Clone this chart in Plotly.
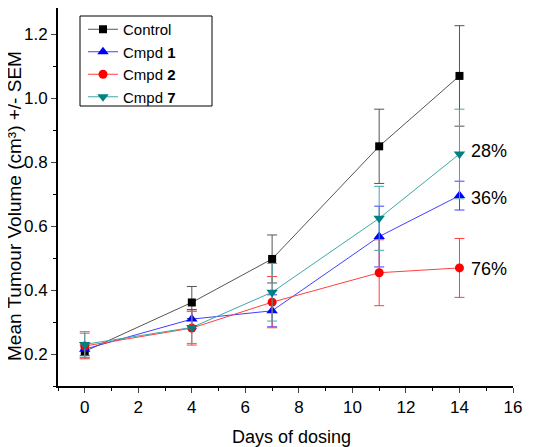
import plotly.graph_objects as go

days = [0, 4, 7, 11, 14]
control = [0.208, 0.361, 0.497, 0.849, 1.069]
control_err = [0.02, 0.05, 0.075, 0.116, 0.157]
cmpd1 = [0.215, 0.309, 0.335, 0.567, 0.695]
cmpd1_err = [0.02, 0.03, 0.05, 0.095, 0.045]
cmpd2 = [0.225, 0.281, 0.362, 0.454, 0.469]
cmpd2_err = [0.04, 0.053, 0.08, 0.103, 0.092]
cmpd7 = [0.23, 0.283, 0.393, 0.624, 0.825]
cmpd7_err = [0.04, 0.05, 0.09, 0.10, 0.14]

pct_labels = ["28%", "36%", "76%"]
pct_y = [0.835, 0.689, 0.467]

x_title = "Days of dosing"
y_title = "Mean Tumour Volume (cm³) +/- SEM"

series = [
    ("Control", control, control_err, "#000000", "#555555", "square", 8),
    ("Cmpd <b>1</b>", cmpd1, cmpd1_err, "#0000FF", "#4040FF", "triangle-up", 10),
    ("Cmpd <b>2</b>", cmpd2, cmpd2_err, "#FF0000", "#FF4040", "circle", 9),
    ("Cmpd <b>7</b>", cmpd7, cmpd7_err, "#008080", "#40A8A8", "triangle-down", 10),
]

fig = go.Figure()
for name, vals, errs, mcol, lcol, sym, msize in series:
    fig.add_trace(go.Scatter(
        x=days, y=vals, name=name, mode="lines+markers",
        line=dict(color=lcol, width=1),
        marker=dict(symbol=sym, size=msize, color=mcol),
        error_y=dict(type="data", array=errs, visible=True, color=lcol,
                     thickness=1, width=5),
    ))

for lab, yv in zip(pct_labels, pct_y):
    fig.add_annotation(x=14, y=yv, xref="x", yref="y", text=lab,
                       showarrow=False, xanchor="left", xshift=10,
                       font=dict(size=18, color="#000000"))

# figure coords (page has an 8px body offset)
L, T = 50, 0
PW, PH = 455, 378
fig.add_shape(type="rect", xref="paper", yref="paper",
              x0=(72 - L) / PW, x1=(204 - L) / PW,
              y0=1 - (98 - T) / PH, y1=1 - (8 - T) / PH,
              line=dict(color="#000000", width=1), fillcolor="rgba(0,0,0,0)")

# axis titles as annotations
fig.add_annotation(xref="paper", yref="paper", x=0, y=1 - 198 / PH,
                   text=y_title, textangle=-90, showarrow=False,
                   xanchor="center", yanchor="middle", xshift=-44,
                   font=dict(size=19, color="#000000"))
fig.add_annotation(xref="paper", yref="paper", x=(283 - L) / PW, y=0,
                   text=x_title, showarrow=False,
                   xanchor="center", yanchor="middle", yshift=-51,
                   font=dict(size=18, color="#000000"))

fig.update_layout(
    width=533, height=439,
    margin=dict(l=50, r=28, t=0, b=61),
    plot_bgcolor="white", paper_bgcolor="white",
    font=dict(family="Liberation Sans, Arial, sans-serif", size=16, color="#000000"),
    showlegend=True,
    legend=dict(x=(75 - L) / PW, y=1 - 5 / PH, xanchor="left", yanchor="top",
                borderwidth=0, bgcolor="rgba(0,0,0,0)",
                font=dict(size=15), tracegroupgap=0, itemwidth=30),
    xaxis=dict(range=[-1, 16], dtick=2, tick0=0, ticks="outside", ticklen=5,
               automargin=False,
               showline=True, linecolor="#000000", linewidth=2,
               showgrid=False, zeroline=False,
               tickfont=dict(size=17),
               minor=dict(dtick=1, tick0=0, ticks="outside", ticklen=3, tickcolor="#000000")),
    yaxis=dict(range=[0.1, 1.28125], dtick=0.2, tick0=0.2, ticks="outside", ticklen=5,
               tickformat=".1f", automargin=False,
               showline=True, linecolor="#000000", linewidth=2,
               showgrid=False, zeroline=False,
               tickfont=dict(size=17),
               minor=dict(dtick=0.1, tick0=0.1, ticks="outside", ticklen=3, tickcolor="#000000")),
)

fig.write_html("out.html")
